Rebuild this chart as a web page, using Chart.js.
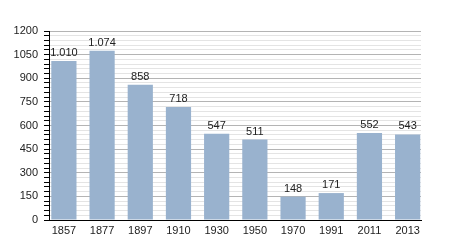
<!DOCTYPE html>
<html>
<head>
<meta charset="utf-8">
<script src="https://cdn.jsdelivr.net/npm/chart.js@4"></script>
<style>
  body { margin: 0; background: #fff; }
</style>
</head>
<body>
<canvas id="chart" width="450" height="250"></canvas>
<script>
// population by census year
const years = ['1857', '1877', '1897', '1910', '1930', '1950', '1970', '1991', '2011', '2013'];
const population = [1010, 1074, 858, 718, 547, 511, 148, 171, 552, 543];

const FONT = { family: 'Liberation Sans, Arial, sans-serif', size: 11 };

// 1.010 style thousands separator
function fmt(v) {
  return String(v).replace(/\B(?=(\d{3})+(?!\d))/g, '.');
}

const valueLabels = {
  id: 'valueLabels',
  afterDatasetsDraw(chart) {
    const ctx = chart.ctx;
    const meta = chart.getDatasetMeta(0);
    ctx.save();
    ctx.font = `${FONT.size}px ${FONT.family}`;
    ctx.fillStyle = '#222';
    ctx.textAlign = 'center';
    ctx.textBaseline = 'alphabetic';
    meta.data.forEach((bar, i) => {
      ctx.fillText(fmt(population[i]), bar.x, bar.y - 5);
    });
    ctx.restore();
  }
};

new Chart(document.getElementById('chart'), {
  type: 'bar',
  data: {
    datasets: [{
      data: population.map((v, i) => ({ x: i, y: v })),
      backgroundColor: '#99b2ce',
      borderWidth: 0,
      barPercentage: 0.66,
      categoryPercentage: 1.0
    }]
  },
  options: {
    responsive: false,
    animation: false,
    layout: { padding: { top: 31, right: 29, left: 0, bottom: 0 } },
    plugins: { legend: { display: false }, tooltip: { enabled: false } },
    scales: {
      x: {
        type: 'linear',
        offset: false,
        min: -0.39,
        max: 9.35,
        afterFit: s => { s.height = 30; },
        afterBuildTicks: s => { s.ticks = years.map((_, i) => ({ value: i })); },
        grid: { display: false, drawTicks: false },
        border: { display: true, color: '#000', width: 1 },
        ticks: {
          autoSkip: false,
          maxRotation: 0,
          padding: 4,
          color: '#222',
          font: FONT,
          callback: v => years[v]
        }
      },
      y: {
        min: 0,
        max: 1200,
        afterFit: s => { s.width = 49; },
        border: { display: true, color: '#000', width: 1 },
        grid: {
          color: c => (c.tick.value % 150 === 0 ? '#b4b4b4' : '#e4e4e4'),
          tickColor: '#000',
          tickLength: 5
        },
        ticks: {
          stepSize: 30,
          autoSkip: false,
          padding: 6,
          color: '#222',
          font: FONT,
          callback: v => (v % 150 === 0 ? v : '')
        }
      }
    }
  },
  plugins: [valueLabels]
});
</script>
</body>
</html>
